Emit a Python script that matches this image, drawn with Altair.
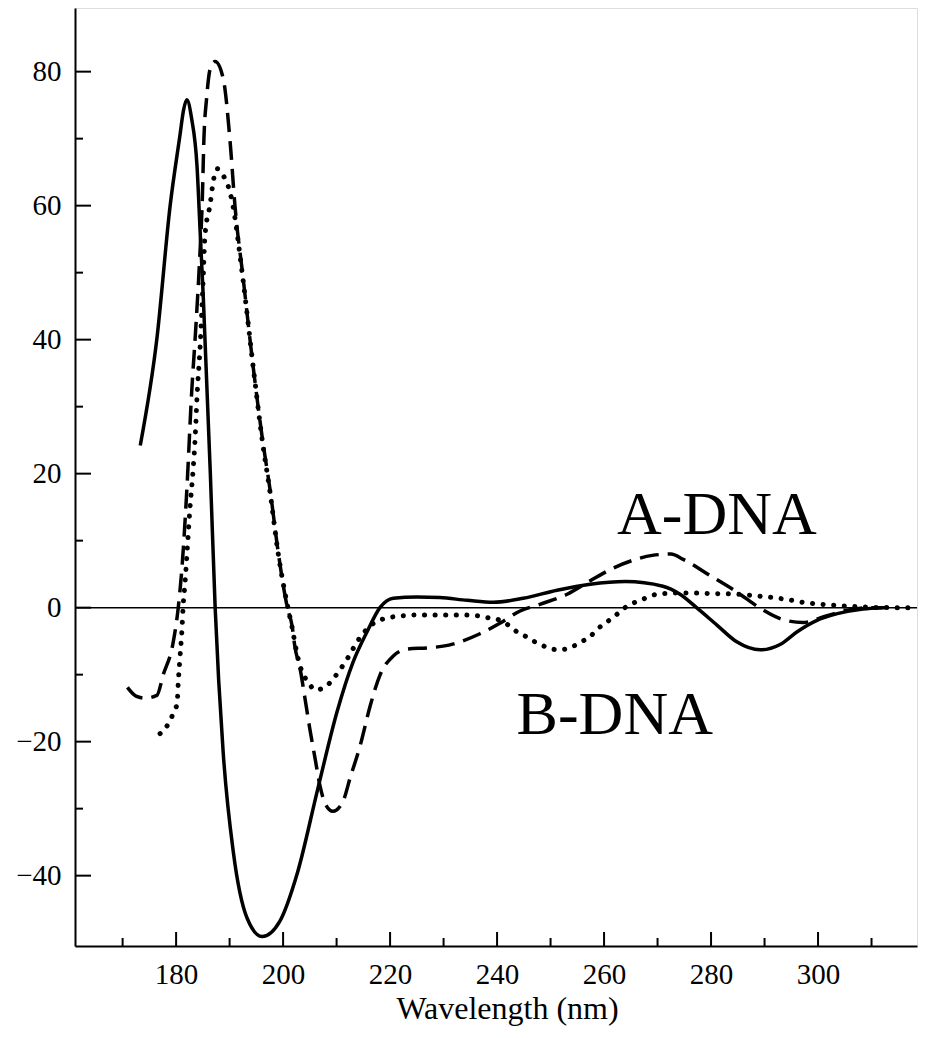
import altair as alt
import pandas as pd

# ---- data ----
solid_x = [173.3, 176.4, 178.9, 180.7, 181.4, 182.0, 182.9, 183.9, 184.5, 185.1, 186.4, 187.3,
           188.8, 190.7, 193.3, 196.1, 199.4, 202.6, 206.5, 210.1, 213.1, 215.7, 218.1,
           220.6, 225.0, 229.3, 234.4, 239.3, 244.9, 251.2, 257.4, 264.0, 271.0, 274.2,
           277.3, 281.1, 284.8, 289.2, 292.9, 296.1, 299.8, 303.6, 308.4, 312.0]
solid_y = [24.2, 40.1, 60.1, 70.4, 74.3, 75.8, 73.0, 66.0, 56.0, 46.0, 20.0, 0.0,
           -21.6, -36.5, -46.4, -49.1, -46.8, -39.8, -27.0, -15.5, -8.1, -3.6, 0.0,
           1.4, 1.6, 1.5, 1.1, 0.8, 1.4, 2.6, 3.5, 3.9, 3.2, 2.0,
           0.0, -2.6, -5.1, -6.3, -5.5, -3.6, -1.9, -0.9, -0.2, 0.0]

dash_x = [170.9, 172.5, 174.2, 176.4, 177.6, 179.4, 180.4, 181.1, 182.0, 182.9, 183.7, 184.4,
          184.9, 185.2, 185.7, 186.4, 187.3, 188.8, 190.1, 191.0, 192.5, 194.4, 196.1,
          197.6, 199.1, 200.8, 201.7, 202.2, 203.2, 204.1, 205.0, 206.0, 206.9, 207.9,
          209.3, 211.2, 212.5, 214.4, 216.3, 218.1, 220.6, 223.2, 227.0, 231.0, 233.1,
          236.8, 240.6, 244.3, 248.0, 253.1, 257.4, 261.7, 265.5, 269.0, 272.5, 274.8,
          279.8, 284.9, 289.2, 293.5, 297.2, 301.7, 305.4, 309.7, 313.0]
dash_y = [-11.9, -13.2, -13.5, -13.1, -10.0, -5.4, 0.0, 6.0, 17.5, 32.0, 42.0, 52.0,
          61.0, 70.0, 76.0, 80.5, 81.5, 79.0, 69.5, 60.0, 49.4, 36.0, 25.4,
          17.4, 8.2, 0.0, -2.8, -5.8, -9.2, -13.6, -18.1, -22.6, -26.6, -29.3,
          -30.4, -28.9, -25.5, -20.6, -14.6, -10.1, -7.2, -6.2, -6.0, -5.6, -5.1,
          -3.9, -2.3, -0.5, 0.5, 2.0, 4.0, 5.9, 7.1, 7.8, 8.0, 7.2,
          4.8, 2.3, -0.1, -1.8, -2.2, -1.2, -0.4, 0.0, 0.0]

dot_x = [177.0, 178.5, 179.4, 180.2, 180.4, 180.7, 181.1, 181.3, 181.7, 182.1, 182.6, 183.2,
         183.6, 183.9, 184.5, 185.0, 185.4, 186.4, 186.9, 187.7, 188.8, 189.7, 190.4,
         192.5, 194.4, 196.1, 197.6, 199.1, 200.9, 201.7, 202.5, 203.5, 204.7, 206.0,
         207.9, 210.7, 212.1, 214.0, 216.8, 219.1, 221.3, 225.0, 229.3, 233.6, 236.2,
         238.3, 240.6, 242.1, 243.7, 245.6, 247.5, 249.3, 251.4, 253.6, 255.5, 257.4,
         258.9, 260.6, 262.4, 263.9, 265.8, 267.7, 269.9, 274.2, 280.7, 285.0, 289.2,
         293.5, 298.0, 302.3, 308.4, 314.8, 318.5]
dot_y = [-18.8, -17.4, -15.9, -14.2, -11.2, -7.7, -3.2, 0.0, 4.0, 8.9, 14.9, 20.8,
         25.9, 31.3, 39.1, 48.0, 55.5, 60.4, 63.4, 65.5, 64.5, 63.0, 60.9,
         49.0, 36.0, 25.0, 17.0, 8.0, 0.0, -3.0, -6.5, -9.5, -11.1, -12.3,
         -11.8, -9.2, -7.5, -4.9, -2.4, -1.6, -1.3, -1.1, -1.1, -1.1, -1.2,
         -1.5, -1.9, -2.6, -3.6, -4.4, -5.3, -5.9, -6.3, -6.0, -5.2, -4.3,
         -3.1, -2.1, -1.0, 0.0, 0.8, 1.4, 2.0, 2.2, 2.1, 2.0, 1.7,
         1.3, 0.7, 0.4, 0.1, 0.0, 0.0]

x_labels = [180, 200, 220, 240, 260, 280, 300]
x_minor = [170, 190, 210, 230, 250, 270, 290, 310]
y_labels = [-40, -20, 0, 20, 40, 60, 80]
y_minor = [-30, -10, 10, 30, 50, 70]
zero_line = [0]

ann_text = ["A-DNA", "B-DNA"]
ann_x = [281.1, 262.0]
ann_y = [13.8, -16.0]

# ---- layout ----
W, H = 842, 938
FONT = "Liberation Serif"

xscale = alt.Scale(domain=[161.1, 318.5], nice=False, zero=False)
yscale = alt.Scale(domain=[-50.5, 89.5], nice=False, zero=False)

x_axis = alt.Axis(
    values=x_labels, ticks=False, tickSize=0, grid=False, labelPadding=14,
    labelFont=FONT, labelFontSize=29, labelColor="black",
    domainColor="black", domainWidth=2,
    title="Wavelength (nm)", titleFont=FONT, titleFontSize=32,
    titleFontWeight="normal", titleColor="black", titlePadding=4, titleX=432)
y_axis = alt.Axis(
    values=y_labels, ticks=False, tickSize=0, grid=False, labelPadding=14,
    labelFont=FONT, labelFontSize=29, labelColor="black",
    domainColor="black", domainWidth=2, title=None)

X = alt.X("wl:Q", scale=xscale, axis=x_axis)
Y = alt.Y("cd:Q", scale=yscale, axis=y_axis)


def series(xs, ys):
    return pd.DataFrame({"wl": xs, "cd": ys})


solid = alt.Chart(series(solid_x, solid_y)).mark_line(
    color="black", strokeWidth=3.5, interpolate="monotone"
).encode(x=X, y=Y)

dashed = alt.Chart(series(dash_x, dash_y)).mark_line(
    color="black", strokeWidth=3.5, interpolate="monotone", strokeDash=[19, 9]
).encode(x=X, y=Y)

dotted = alt.Chart(series(dot_x, dot_y)).mark_line(
    color="black", strokeWidth=5, interpolate="monotone", strokeDash=[0.1, 10.5],
    strokeCap="round"
).encode(x=X, y=Y)

zero = alt.Chart(pd.DataFrame({"cd": zero_line})).mark_rule(
    color="black", strokeWidth=1.5
).encode(y=Y, x=alt.value(0), x2=alt.value(W))

ytick_major = alt.Chart(pd.DataFrame({"cd": y_labels})).mark_rule(
    color="black", strokeWidth=2).encode(y=Y, x=alt.value(0), x2=alt.value(16))
ytick_minor = alt.Chart(pd.DataFrame({"cd": y_minor})).mark_rule(
    color="black", strokeWidth=2).encode(y=Y, x=alt.value(0), x2=alt.value(8))
xtick_major = alt.Chart(pd.DataFrame({"wl": x_labels})).mark_rule(
    color="black", strokeWidth=2).encode(x=X, y=alt.value(H), y2=alt.value(H - 14))
xtick_minor = alt.Chart(pd.DataFrame({"wl": x_minor})).mark_rule(
    color="black", strokeWidth=2).encode(x=X, y=alt.value(H), y2=alt.value(H - 8))

ann = alt.Chart(pd.DataFrame({"t": ann_text, "wl": ann_x, "cd": ann_y})).mark_text(
    font=FONT, fontSize=62, color="black", align="center", baseline="middle"
).encode(x=X, y=Y, text="t:N")

chart = alt.layer(
    solid, dashed, dotted, zero, ytick_major, ytick_minor, xtick_major, xtick_minor, ann
).properties(
    width=W, height=H,
    autosize=alt.AutoSizeParams(type="none"),
    padding={"left": 67, "top": 0, "right": 8, "bottom": 84},
    background="white",
).configure_view(
    stroke="black", strokeWidth=2
).configure_axis(
    labelFont=FONT, titleFont=FONT
).configure(font=FONT)

chart.save("out.html", embed_options={"renderer": "svg", "actions": False})
